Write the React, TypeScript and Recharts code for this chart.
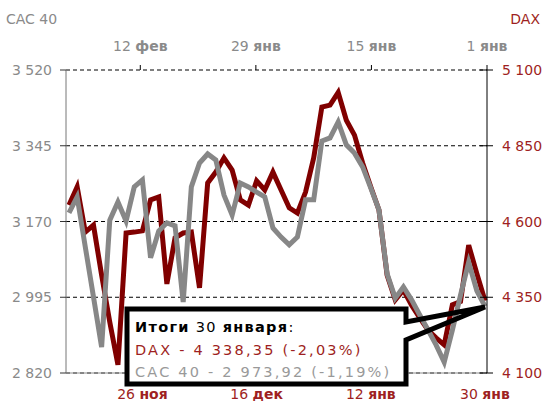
import React from "react";
import { CartesianGrid, Line, LineChart, XAxis, YAxis } from "recharts";

const FONT = "DejaVu Sans, Verdana, sans-serif";
const RED = "#9e1f22";
const GRAY_TEXT = "#8a8a8a";
const DAX_COLOR = "#800000";
const CAC_COLOR = "#878787";

// trading days, 13 Nov 2008 .. 30 Jan 2009
const dates = [
  "13 ноя", "14 ноя", "17 ноя", "18 ноя", "19 ноя", "20 ноя", "21 ноя", "24 ноя", "25 ноя", "26 ноя", "27 ноя", "28 ноя",
  "1 дек", "2 дек", "3 дек", "4 дек", "5 дек", "8 дек", "9 дек", "10 дек", "11 дек", "12 дек", "15 дек", "16 дек",
  "17 дек", "18 дек", "19 дек", "22 дек", "23 дек", "29 дек", "30 дек",
  "2 янв", "5 янв", "6 янв", "7 янв", "8 янв", "9 янв", "12 янв", "13 янв", "14 янв", "15 янв", "16 янв",
  "19 янв", "20 янв", "21 янв", "22 янв", "23 янв", "26 янв", "27 янв", "28 янв", "29 янв", "30 янв",
];

const daxValues = [
  4654, 4714, 4565, 4588, 4423, 4268, 4127, 4562, 4565, 4569, 4671, 4681,
  4394, 4546, 4562, 4565, 4381, 4727, 4763, 4810, 4770, 4671, 4654, 4734,
  4704, 4763, 4704, 4645, 4628, 4697, 4810,
  4978, 4984, 5026, 4934, 4885, 4793, 4714, 4638, 4423, 4341, 4374,
  4324, 4282, 4242, 4216, 4193, 4325, 4336, 4522, 4428, 4338.35,
];

const cacValues = [
  3190, 3227, 3111, 2996, 2880, 3173, 3215, 3171, 3250, 3266, 3086, 3148,
  3167, 3160, 2984, 3250, 3305, 3326, 3312, 3231, 3185, 3259, 3250, 3238,
  3227, 3155, 3134, 3116, 3134, 3220, 3220,
  3356, 3363, 3400, 3347, 3328, 3296, 3247, 3197, 3049, 2993, 3019,
  2989, 2954, 2920, 2885, 2845, 2919, 3000, 3076, 3010, 2973.92,
];

const cacTicks = [2820, 2995, 3170, 3345, 3520];
const daxTicks = [4100, 4350, 4600, 4850, 5100];
const bottomTicks = ["26 ноя", "16 дек", "12 янв", "30 янв"];
// top scale: calendar days from 1 Jan, running right to left
const topTickDays = [0, 14, 28, 42];
const topTickLabels = ["1 янв", "15 янв", "29 янв", "12 фев"];

const data = dates.map((date, i) => ({ date, dax: daxValues[i], cac: cacValues[i] }));

const fmt = (v: number) => String(v).replace(/\B(?=(\d{3})+(?!\d))/g, " ");

const DateLabel = ({ x, y, dy, text, color }: any) => {
  const [num, mon] = String(text).split(" ");
  return (
    <text x={x} y={y} dy={dy} textAnchor="middle" fill={color} fontSize={14} fontFamily={FONT}>
      {num + " "}
      <tspan fontWeight="bold">{mon}</tspan>
    </text>
  );
};

const BottomTick = (props: any) => (
  <DateLabel x={props.x} y={props.y} dy={26} text={props.payload.value} color={RED} />
);

const TopTick = (props: any) => {
  const label = topTickLabels[topTickDays.indexOf(props.payload.value)];
  return <DateLabel x={props.x} y={props.y} dy={-14} text={label} color={GRAY_TEXT} />;
};

const LeftTick = (props: any) => (
  <text x={props.x} y={props.y} dy="0.36em" textAnchor="end" fill={GRAY_TEXT} fontSize={14} fontFamily={FONT}>
    {fmt(props.payload.value)}
  </text>
);

const RightTick = (props: any) => {
  const axisX = props.x - 15;
  return (
    <g>
      <line x1={axisX - 7} x2={axisX} y1={props.y} y2={props.y} stroke="#000" />
      <text x={props.x} y={props.y} dy="0.36em" textAnchor="start" fill={RED} fontSize={14} fontFamily={FONT}>
        {fmt(props.payload.value)}
      </text>
    </g>
  );
};

const Callout = () => (
  <svg
    width={542}
    height={404}
    style={{ position: "absolute", left: 0, top: 0, pointerEvents: "none" }}
    fontFamily={FONT}
  >
    <text x={6} y={24} fontSize={14} fill={GRAY_TEXT}>CAC 40</text>
    <text x={540} y={24} fontSize={14} fill={RED} textAnchor="end">DAX</text>
    <rect x={127} y={309} width={279} height={75} fill="#fff" />
    <path
      d="M406,322 L406,309 L127,309 L127,384 L406,384 L406,340 L485,307 Z"
      fill="none"
      stroke="#000"
      strokeWidth={5}
    />
    <text x={135} y={332} fontSize={14.5} letterSpacing={1.3} fill="#000">
      <tspan fontWeight="bold">Итоги</tspan>
      {" 30 "}
      <tspan fontWeight="bold">января</tspan>:
    </text>
    <text x={135} y={355} fontSize={14.5} letterSpacing={2.2} fill={RED}>
      DAX - 4 338,35 (-2,03%)
    </text>
    <text x={135} y={377} fontSize={14.5} letterSpacing={2.2} fill="#999">
      CAC 40 - 2 973,92 (-1,19%)
    </text>
  </svg>
);

export default function App() {
  return (
    <div style={{ position: "absolute", left: 0, top: 0, width: 542, height: 404, background: "#fff" }}>
      <LineChart width={542} height={404} data={data} margin={{ top: 0, right: 0, bottom: 0, left: 0 }}>
        <CartesianGrid
          xAxisId="bottom"
          yAxisId="left"
          vertical={false}
          stroke="#000"
          strokeDasharray="4 3"
        />
        <XAxis
          xAxisId="bottom"
          dataKey="date"
          scale="point"
          padding={{ left: 3, right: 2 }}
          height={31}
          ticks={bottomTicks}
          interval={0}
          tick={<BottomTick />}
          tickLine={false}
          tickSize={0}
          tickMargin={0}
          axisLine={{ stroke: "#8c8c8c" }}
        />
        <XAxis
          xAxisId="top"
          orientation="top"
          type="number"
          domain={[-2.2, 51.8]}
          reversed
          allowDataOverflow
          ticks={topTickDays}
          interval={0}
          height={70}
          tick={<TopTick />}
          tickLine={{ stroke: "#000" }}
          tickSize={5}
          tickMargin={0}
          axisLine={false}
        />
        <YAxis
          yAxisId="left"
          orientation="left"
          width={66}
          domain={[2820, 3520]}
          ticks={cacTicks}
          interval={0}
          tick={<LeftTick />}
          tickLine={{ stroke: "#333" }}
          tickSize={6}
          tickMargin={8}
          axisLine={{ stroke: "#777" }}
        />
        <YAxis
          yAxisId="right"
          orientation="right"
          width={55}
          domain={[4100, 5100]}
          ticks={daxTicks}
          interval={0}
          tick={<RightTick />}
          tickLine={{ stroke: "#000" }}
          tickSize={6}
          tickMargin={9}
          axisLine={{ stroke: "#000" }}
        />
        <Line
          xAxisId="bottom"
          yAxisId="right"
          dataKey="dax"
          type="linear"
          stroke={DAX_COLOR}
          strokeWidth={5}
          dot={false}
          activeDot={false}
          isAnimationActive={false}
        />
        <Line
          xAxisId="bottom"
          yAxisId="left"
          dataKey="cac"
          type="linear"
          stroke={CAC_COLOR}
          strokeWidth={5}
          dot={false}
          activeDot={false}
          isAnimationActive={false}
        />
      </LineChart>
      <Callout />
    </div>
  );
}
